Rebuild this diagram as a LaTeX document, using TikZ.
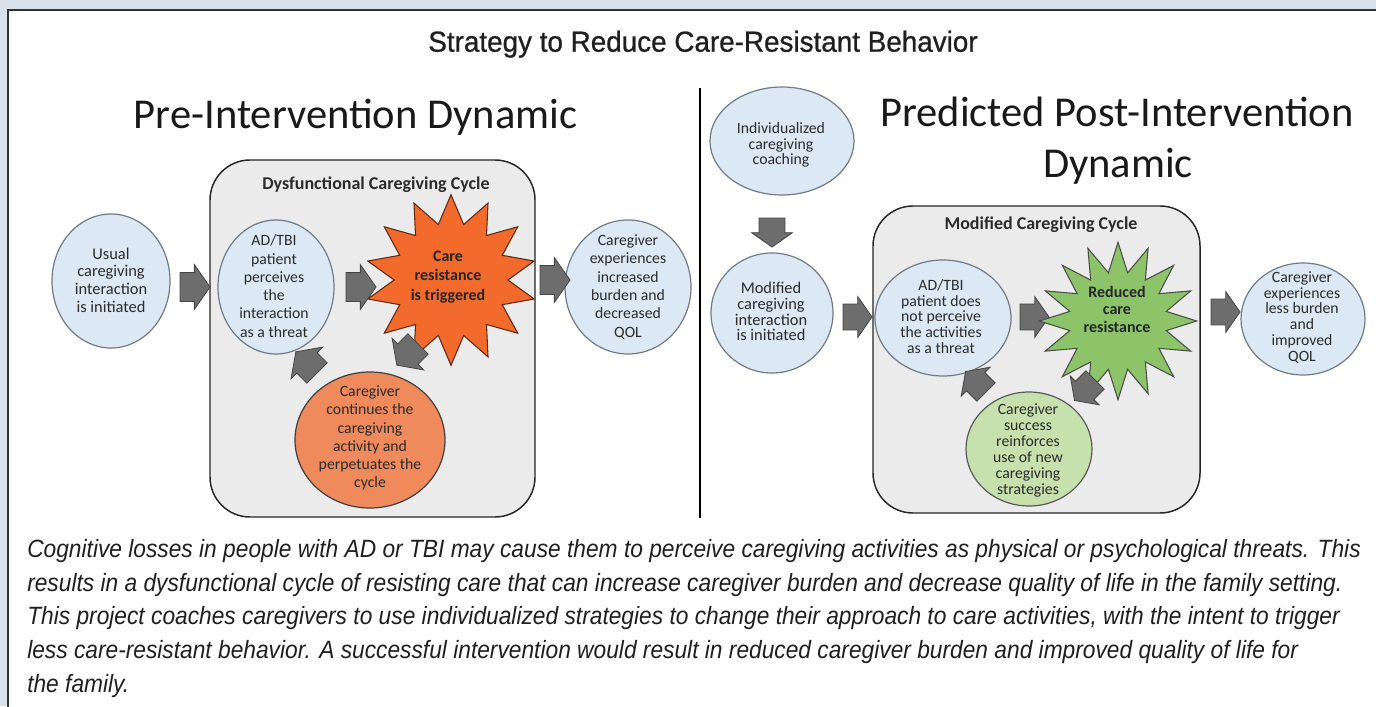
\documentclass[tikz,border=0pt]{standalone}
\usepackage{fontspec}
\setmainfont{Carlito}
\newfontfamily\capfont[FakeStretch=0.91]{Liberation Sans}
\newfontfamily\titlefont[FakeStretch=0.96,FakeBold=0.8]{Liberation Sans}
\usetikzlibrary{shapes.geometric,shapes.arrows}
\definecolor{bgblue}{HTML}{D9E2EB}
\definecolor{ellfill}{HTML}{DCE8F4}
\definecolor{elldraw}{HTML}{6F7C88}
\definecolor{boxfill}{HTML}{EBEBEB}
\definecolor{arrfill}{HTML}{6D6D6D}
\definecolor{arrdraw}{HTML}{454545}
\definecolor{orstar}{HTML}{F26A2C}
\definecolor{orcirc}{HTML}{EE8A5C}
\definecolor{grstar}{HTML}{8DC46A}
\definecolor{grcirc}{HTML}{C6E1AE}
\definecolor{txt}{HTML}{2B2B2B}
\begin{document}
\begin{tikzpicture}[x=0.75pt,y=-0.75pt,
  ell/.style={ellipse, draw=elldraw, fill=ellfill, line width=0.9pt, inner sep=0pt},
  bodyl/.style={align=center, text=txt, font=\fontsize{11.8}{13.7}\selectfont, inner sep=0pt},
  bodyr/.style={align=center, text=txt, font=\fontsize{11.8}{11.9}\selectfont, inner sep=0pt},
  startxt/.style={align=center, text=black!85, font=\bfseries\fontsize{12}{14.8}\selectfont, inner sep=0pt},
  cyclebox/.style={draw=black!85, fill=boxfill, line width=1.1pt, rounded corners=30pt},
  cycletitle/.style={text=txt, font=\bfseries\fontsize{13.5}{16}\selectfont, inner sep=0pt, anchor=base},
  heading/.style={text=black!90, font=\fontsize{31.9}{38}\selectfont, inner sep=0pt, anchor=base},
  blk/.style={single arrow, fill=arrfill, draw=arrdraw, line width=0.6pt, minimum width=33pt, minimum height=22.5pt, single arrow head extend=6pt, single arrow tip angle=110, inner xsep=0pt, inner ysep=10.5pt},
  blksm/.style={blk, minimum width=30pt, minimum height=21.75pt, single arrow head extend=5.6pt, inner ysep=9.4pt},
  orburst/.style={star, star points=14, star point ratio=1.5, fill=orstar, draw=black!60!orstar, line width=0.8pt, minimum size=128pt, inner sep=0pt},
  grburst/.style={star, star points=16, star point ratio=1.6, fill=grstar, draw=black!70, line width=0.8pt, minimum size=118pt, inner sep=0pt},
  capline/.style={anchor=base west, inner sep=0pt, text=black!88, font=\capfont\itshape\fontsize{18.75}{22}\selectfont}
]
\useasboundingbox (0,0) rectangle (1376,706);
\fill[bgblue] (0,0) rectangle (1376,706);
\draw[fill=white, draw=black!80, line width=1.1pt] (8,10) rectangle (1400,730);

% title
\node[anchor=base, inner sep=0pt, text=black!88, font=\titlefont\fontsize{21.75}{26}\selectfont] (title) at (703,51.7) {Strategy to Reduce Care-Resistant Behavior};

% divider
\coordinate (divtop) at (700,88);
\coordinate (divbot) at (700,518);
\draw[line width=1.5pt] (divtop) -- (divbot);

% ---------- left panel ----------
\node[heading] (prehead) at (355.5,128) {Pre-Intervention Dynamic};
\draw[cyclebox] (210,160) rectangle (535,517);
\node[cycletitle] (cyc1) at (376,189) {Dysfunctional Caregiving Cycle};

\node[ell, minimum width=88.5pt, minimum height=100.5pt] (usual) at (111,281) {};
\node[bodyl, font=\fontsize{12.3}{13.2}\selectfont] (usualt) at (111,280) {Usual\\caregiving\\interaction\\is initiated};

\node[ell, minimum width=87pt, minimum height=100.5pt] (pat1) at (276,287) {};
\node[bodyl] (pat1t) at (274,286) {AD/TBI\\patient\\perceives\\the\\interaction\\as a threat};

\node[orburst] (star1) at (451,280) {};
\node[startxt] (star1t) at (448,277) {Care\\resistance\\is triggered};

\node[ell, minimum width=94.5pt, minimum height=100.5pt] (out1) at (628,287) {};
\node[bodyl] (out1t) at (628,287) {Caregiver\\experiences\\increased\\burden and\\decreased\\QOL};

\node[ellipse, fill=orcirc, draw=black!75, line width=0.9pt, inner sep=0pt, minimum width=112.5pt, minimum height=102pt] (circ1) at (370,440) {};
\node[bodyl] (circ1t) at (370,438) {Caregiver\\continues the\\caregiving\\activity and\\perpetuates the\\cycle};

\node[blk] (a1) at (190,287) {};
\node[blk] (a2) at (356,287) {};
\node[blk] (a3) at (550,280) {};
\node[blk, rotate=225] (a4) at (411,351) {};
\node[blk, rotate=135] (a5) at (310,366) {};

% ---------- right panel ----------
\node[heading] (posthead1) at (1117,127) {Predicted Post-Intervention};
\node[heading] (posthead2) at (1118,177) {Dynamic};

\node[ell, minimum width=108pt, minimum height=81pt] (coach) at (782,141) {};
\node[bodyr] (coacht) at (781,145) {Individualized\\caregiving\\coaching};

\node[blksm, rotate=270] (b1) at (772,228) {};

\node[ell, minimum width=91.5pt, minimum height=90pt] (mod) at (772,313) {};
\node[bodyr, font=\fontsize{12.3}{11.9}\selectfont] (modt) at (771,311.5) {Modified\\caregiving\\interaction\\is initiated};

\node[blksm] (b2) at (853,317) {};

\draw[cyclebox] (873,206) rectangle (1200,513);
\node[cycletitle] (cyc2) at (1041,229) {Modified Caregiving Cycle};

\node[ell, minimum width=102pt, minimum height=87pt] (pat2) at (943,318) {};
\node[bodyr] (pat2t) at (941,316.5) {AD/TBI\\patient does\\not perceive\\the activities\\as a threat};

\node[blksm] (b3) at (1030,317) {};

\node[grburst] (star2) at (1118,321) {};
\node[startxt, font=\bfseries\fontsize{12}{13.1}\selectfont] (star2t) at (1117,309) {Reduced\\care\\resistance};

\node[blksm] (b4) at (1221,312) {};

\node[ell, minimum width=93pt, minimum height=84pt] (out2) at (1303,319) {};
\node[bodyr] (out2t) at (1302,317.5) {Caregiver\\experiences\\less burden\\and\\improved\\QOL};

\node[ellipse, fill=grcirc, draw=black!65, line width=0.9pt, inner sep=0pt, minimum width=94.5pt, minimum height=85.5pt] (circ2) at (1029,449) {};
\node[bodyr] (circ2t) at (1028,450.5) {Caregiver\\success\\reinforces\\use of new\\caregiving\\strategies};

\node[blksm, rotate=225] (b5) at (1088,387) {};
\node[blksm, rotate=135] (b6) at (979,385) {};

% ---------- caption ----------
\node[capline] (cap1) at (27,557) {Cognitive losses in people with AD or TBI may cause them to perceive caregiving activities as physical or psychological threats. This};
\node[capline] (cap2) at (27,591) {results in a dysfunctional cycle of resisting care that can increase caregiver burden and decrease quality of life in the family setting.};
\node[capline] (cap3) at (27,624) {This project coaches caregivers to use individualized strategies to change their approach to care activities, with the intent to trigger};
\node[capline] (cap4) at (27,658) {less care-resistant behavior. A successful intervention would result in reduced caregiver burden and improved quality of life for};
\node[capline] (cap5) at (27,692) {the family.};
\end{tikzpicture}
\end{document}
